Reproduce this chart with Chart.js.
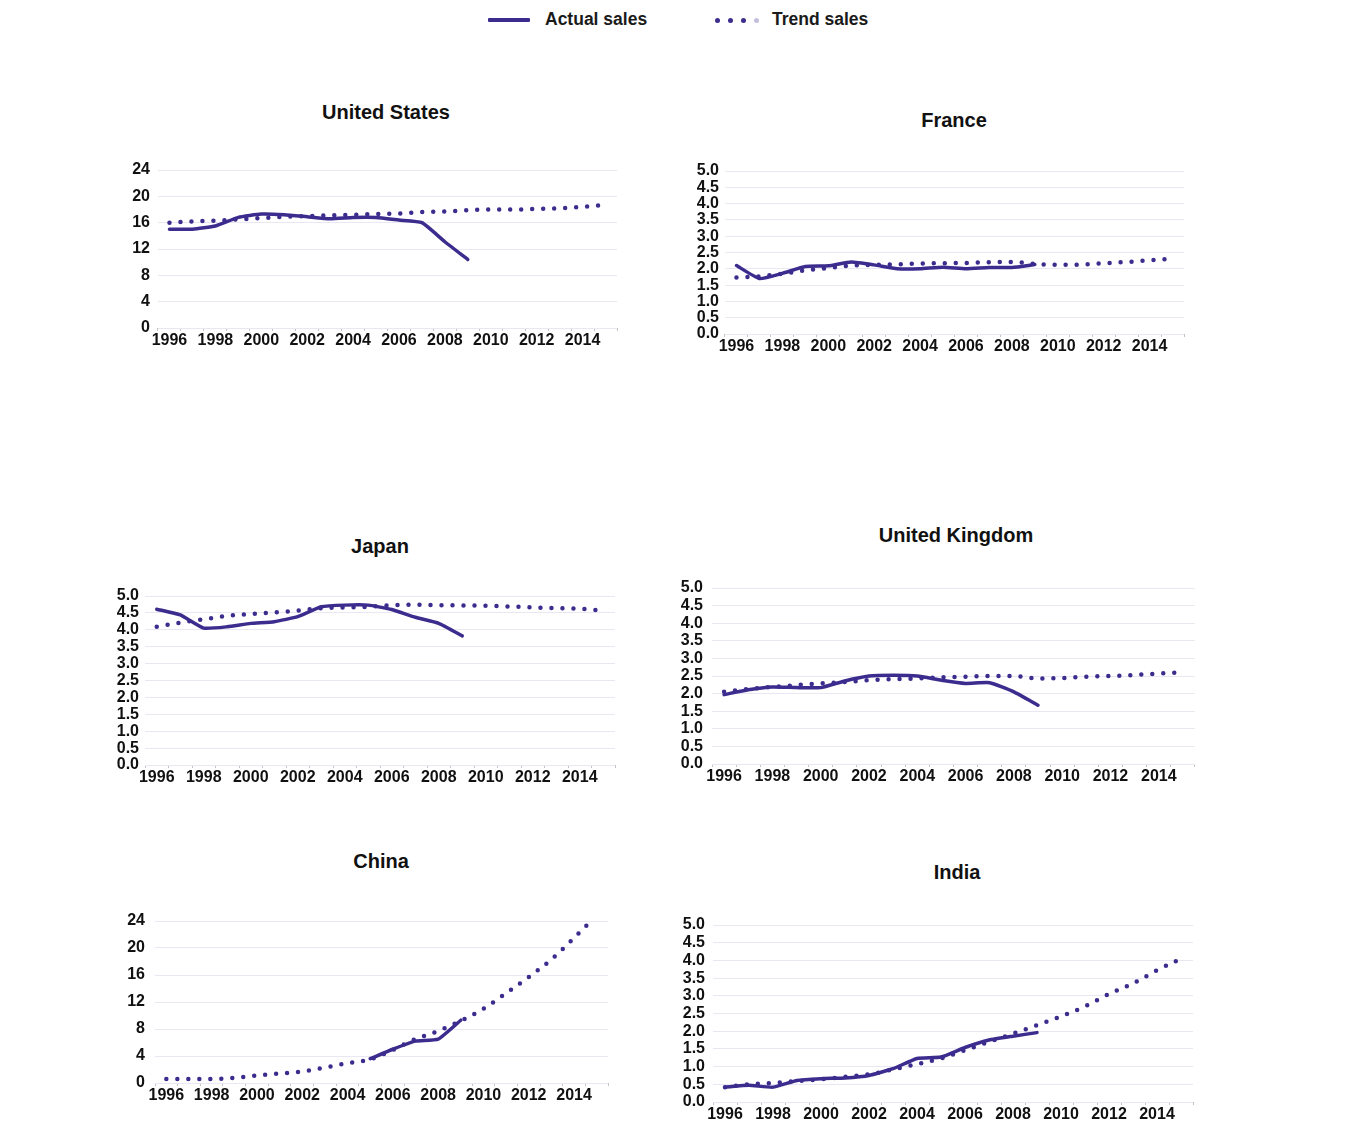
<!DOCTYPE html>
<html><head><meta charset="utf-8">
<script src="https://cdn.jsdelivr.net/npm/chart.js@4.4.0/dist/chart.umd.min.js"></script>
<style>
html,body{margin:0;padding:0;background:#fff;}
body{width:1348px;height:1122px;position:relative;overflow:hidden;font-family:"Liberation Sans",Arial,Helvetica,sans-serif;}
.title{position:absolute;width:400px;text-align:center;font-weight:bold;font-size:20px;line-height:24px;color:#111;}
canvas{position:absolute;}
.leg{position:absolute;font-weight:bold;font-size:17.5px;line-height:20px;color:#1a1a1a;white-space:nowrap;}
.dot{position:absolute;width:5px;height:5px;border-radius:50%;}
</style></head><body>
<div id="legLine" style="position:absolute;left:488px;top:18px;width:42px;height:4px;border-radius:1px;"></div>
<div class="leg" style="left:545px;top:9px;">Actual sales</div>
<div class="dot" style="left:715px;top:18px;"></div>
<div class="dot" style="left:728px;top:18px;"></div>
<div class="dot" style="left:741px;top:18px;"></div>
<div class="dot" style="left:754px;top:18px;opacity:0.3;"></div>
<div class="leg" style="left:772px;top:9px;">Trend sales</div>
<script>
// ---- data ----
const years = ['1996','1997','1998','1999','2000','2001','2002','2003','2004','2005','2006','2007','2008','2009','2010','2011','2012','2013','2014','2015'];
const tickYears = ['1996','1998','2000','2002','2004','2006','2008','2010','2012','2014'];

const usActual = [15.0,15.0,15.5,16.8,17.3,17.2,16.9,16.6,16.8,16.8,16.4,16.0,13.1,10.4];
const usTrend  = [16.0,16.2,16.3,16.5,16.7,16.9,17.0,17.1,17.2,17.3,17.4,17.6,17.7,17.9,18.0,18.0,18.1,18.2,18.4,18.7];

const frActual = [2.10,1.70,1.86,2.07,2.09,2.21,2.12,2.00,2.00,2.05,2.00,2.04,2.04,2.13];
const frTrend  = [1.73,1.77,1.85,1.95,2.02,2.10,2.12,2.14,2.16,2.17,2.18,2.20,2.21,2.15,2.12,2.13,2.17,2.21,2.26,2.31];

const jpActual = [4.61,4.44,4.05,4.09,4.19,4.24,4.39,4.68,4.73,4.73,4.60,4.37,4.19,3.82];
const jpTrend  = [4.09,4.21,4.31,4.41,4.47,4.51,4.57,4.64,4.66,4.68,4.73,4.74,4.73,4.72,4.71,4.69,4.66,4.64,4.62,4.57];

const ukActual = [1.97,2.11,2.19,2.17,2.17,2.36,2.50,2.52,2.50,2.38,2.29,2.31,2.05,1.67];
const ukTrend  = [2.05,2.13,2.19,2.24,2.29,2.33,2.38,2.41,2.43,2.46,2.48,2.50,2.50,2.43,2.44,2.48,2.50,2.53,2.57,2.60];

const cnActual = [null,null,null,null,null,null,null,null,null,3.6,5.0,6.2,6.5,9.3];
const cnTrend  = [0.6,0.6,0.6,0.75,1.1,1.4,1.7,2.3,2.95,3.5,4.9,6.5,7.7,9.2,11.0,13.3,15.7,18.3,21.5,24.8];

const inActual = [0.42,0.47,0.42,0.61,0.66,0.68,0.75,0.94,1.23,1.27,1.54,1.75,1.86,1.96];
const inTrend  = [0.42,0.50,0.54,0.59,0.64,0.71,0.78,0.92,1.07,1.23,1.46,1.70,1.93,2.17,2.42,2.70,3.05,3.35,3.72,4.05];

// ---- style ----
const C = '#3b2c8e';
const GRID = '#e8e8f2';
document.getElementById('legLine').style.background = C;
document.querySelectorAll('.dot').forEach(d => d.style.background = C);

const panels = [
  {title:'United States', actual:usActual, trend:usTrend, max:24, step:4, dec:false, rect:{x:158,y:170,w:459,h:158}, tc:[386,112], pad:8},
  {title:'France', actual:frActual, trend:frTrend, max:5, step:0.5, dec:true, rect:{x:725,y:170.7,w:459,h:163.3}, tc:[954,120], pad:6},
  {title:'Japan', actual:jpActual, trend:jpTrend, max:5, step:0.5, dec:true, rect:{x:145,y:596,w:470,h:169}, tc:[380,546], pad:6},
  {title:'United Kingdom', actual:ukActual, trend:ukTrend, max:5, step:0.5, dec:true, rect:{x:711.7,y:588,w:483.3,h:175.5}, tc:[956,535], pad:9},
  {title:'China', actual:cnActual, trend:cnTrend, max:24, step:4, dec:false, rect:{x:155,y:920.7,w:453.3,h:162.3}, tc:[381,861], pad:10},
  {title:'India', actual:inActual, trend:inTrend, max:5, step:0.5, dec:true, rect:{x:713.3,y:925,w:480,h:176.7}, tc:[957,872], pad:8}
];

const xFont = {family:'"Liberation Sans", Arial, sans-serif', size:16, weight:'bold', lineHeight:1.2};
const yFont = {family:'"Liberation Sans", Arial, sans-serif', size:16, weight:'bold', lineHeight:1.0};

function makePanel(p) {
  const t = document.createElement('div');
  t.className = 'title';
  t.textContent = p.title;
  t.style.left = (p.tc[0] - 200) + 'px';
  t.style.top = (p.tc[1] - 12) + 'px';
  document.body.appendChild(t);

  const cv = document.createElement('canvas');
  cv.width = Math.round(p.rect.w + 70);
  cv.height = Math.round(p.rect.h + 50);
  document.body.appendChild(cv);
  const chart = new Chart(cv, {
    type: 'line',
    data: {
      labels: years,
      datasets: [
        {label:'Trend sales', data:p.trend, borderColor:C, backgroundColor:C, borderWidth:4.5,
         borderDash:[0,11], borderCapStyle:'round', pointRadius:0, cubicInterpolationMode:'monotone', fill:false},
        {label:'Actual sales', data:p.actual, borderColor:C, backgroundColor:C, borderWidth:3.5,
         borderJoinStyle:'round', borderCapStyle:'round', pointRadius:0, tension:0.15, fill:false}
      ]
    },
    options: {
      responsive:false, maintainAspectRatio:false, animation:false, events:[],
      layout:{padding:{top:12,right:12,left:0,bottom:0}},
      plugins:{legend:{display:false}, tooltip:{enabled:false}, title:{display:false}},
      scales:{
        x:{type:'category', offset:true,
           grid:{offset:true, drawOnChartArea:false, drawTicks:true, tickLength:3, color:'#c4c4c4'},
           border:{display:false},
           ticks:{autoSkip:false, maxRotation:0, minRotation:0, padding:0, color:'#111', font:xFont,
                  callback:(v,i)=> tickYears.includes(years[i]) ? years[i] : ''},
           afterFit:s=>{s.height = 30;}},
        y:{min:0, max:p.max,
           ticks:{stepSize:p.step, autoSkip:false, padding:p.pad, color:'#111', font:yFont,
                  callback:v=> p.dec ? Number(v).toFixed(1) : String(v)},
           grid:{color:GRID, drawTicks:false, lineWidth:1},
           border:{display:false},
           afterFit:s=>{s.width = 55;}}
      }
    }
  });
  let ca = chart.chartArea;
  const w = chart.width + (p.rect.w - (ca.right - ca.left));
  const h = chart.height + (p.rect.h - (ca.bottom - ca.top));
  chart.resize(Math.round(w), Math.round(h));
  ca = chart.chartArea;
  cv.style.left = (p.rect.x - ca.left) + 'px';
  cv.style.top = (p.rect.y - ca.top) + 'px';
}
panels.forEach(makePanel);
</script>
</body></html>
